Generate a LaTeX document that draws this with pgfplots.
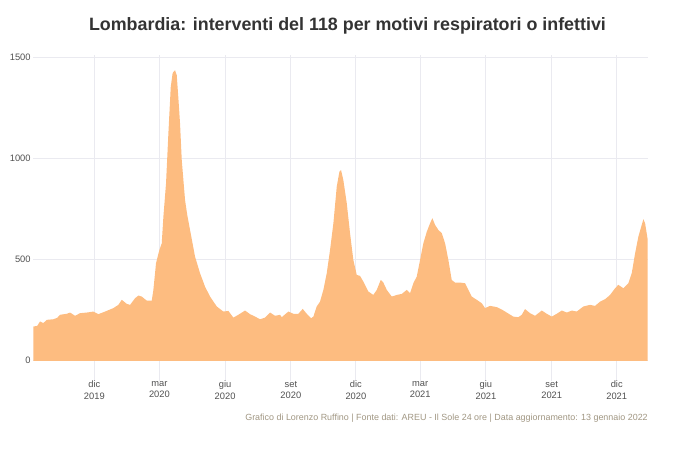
\documentclass[border=0pt]{standalone}
\usepackage{pgfplots}
\pgfplotsset{compat=1.18}
\usepackage{fontspec}
\setmainfont{Liberation Sans}
\definecolor{areaor}{RGB}{253,188,128}
\definecolor{gridc}{RGB}{234,234,240}
\definecolor{tickc}{RGB}{80,80,80}
\definecolor{titlec}{RGB}{51,51,51}
\definecolor{capc}{RGB}{160,150,130}
\begin{document}
\begin{tikzpicture}
\path[use as bounding box] (0,0) rectangle (510pt,339.75pt);
\begin{axis}[
  at={(25pt,54pt)}, anchor=south west,
  scale only axis, width=460.8pt, height=244.5pt,
  xmin=-85.4, xmax=774.4, ymin=-100, ymax=1510,
  xtick={0,91,183,275,366,456,548,640,731},
  xticklabels={dic\\2019,mar\\2020,giu\\2020,set\\2020,dic\\2020,mar\\2021,giu\\2021,set\\2021,dic\\2021},
  xticklabel style={align=center, font=\fontsize{7}{8.8}\selectfont, text=tickc, yshift=3.5pt},
  ytick={0,500,1000,1500},
  yticklabel style={font=\fontsize{7}{8.5}\selectfont, text=tickc, xshift=1.5pt},
  /pgf/number format/assume math mode=true,
  /pgf/number format/1000 sep={},
  grid=major, major grid style={draw=gridc, line width=0.7pt},
  axis line style={draw=none}, tick style={draw=none},
  clip=true,
]
\addplot[fill=areaor, draw=none] coordinates {
(-85.4,169) (-80.0,172) (-76.0,194) (-71.4,186) (-66.6,202) (-57.4,205) (-52,212) (-48.0,227) (-38.6,232) (-34.0,238)
(-27.0,222) (-20.0,235) (-10.6,238) (-1.4,243) (5.6,230) (15.0,243) (26.6,260) (33.6,276)
(38.3,301) (45.3,281) (50.0,276) (57.0,309) (61.6,322) (66.3,317) (73.3,297) (80.3,297)
(82.6,350) (86.3,482) (91.0,547) (94.3,580) (96.6,711) (100.3,876) (103.6,1123) (106.9,1352)
(109.5,1420) (110.6,1426) (112.9,1435) (115.3,1410) (117.5,1300) (119.9,1172) (122.3,991) (126.9,794) (130,720) (133.9,646)
(140.9,514) (147.9,432) (154.9,366) (161.9,317) (171.3,268) (180.5,243) (187.5,246)
(189.9,235) (194.5,213) (201.5,227) (210.9,248) (217.9,230) (224.9,218) (231.9,205)
(238.9,213) (245.9,238) (252.9,222) (259.9,227) (262.2,215) (271.5,243) (278.5,232)
(285.5,232) (291.6,256) (297.2,232) (303.3,210) (306.5,218) (311.2,268) (315.8,292)
(320.5,350) (325.2,432) (329.8,547) (334.5,679) (339.2,860) (342.9,933) (345.2,942)
(348.4,893) (353.2,778) (357.8,630) (362.4,498) (367.2,424) (371.8,419) (376.4,391)
(383.4,342) (390.4,325) (395.2,350) (400.8,399) (404.4,386) (409.2,350) (416.2,317)
(423.2,325) (430.2,330) (437.2,350) (441.8,334) (446.4,383) (451.2,416) (455.8,498)
(460.4,580) (465.2,637) (469.8,679) (473.0,704) (476.8,671) (481.4,646) (486.2,630)
(490.8,580) (495.4,498) (500.1,399) (504.8,386) (511.8,386) (518.8,383) (523.4,350)
(528.1,317) (535.1,301) (542.1,284) (546.7,260) (553.7,271) (563.1,265) (570.1,253)
(577.1,238) (586.3,218) (593.3,215) (598.1,227) (602.7,255) (609.7,235) (616.7,222)
(626.1,248) (633.1,232) (640.1,218) (647.1,232) (654.1,248) (661.1,238) (668.1,248)
(675.1,243) (684.3,268) (693.7,276) (700.7,271) (707.7,292) (714.7,304) (721.7,325)
(728.7,358) (733.3,375) (740.3,358) (747.3,383) (752.0,432) (756.7,530) (761.3,613)
(766.0,671) (768.3,699) (770.7,679) (774.4,597)
} \closedcycle;
\end{axis}
\node[font=\fontsize{13.4}{15}\selectfont\bfseries, text=titlec] at (260.6pt,320pt) {Lombardia: interventi del 118 per motivi respiratori o infettivi};
\node[font=\fontsize{6.7}{8}\selectfont, text=capc, anchor=east, inner sep=0pt] at (486pt,26.25pt) {Grafico di Lorenzo Ruffino | Fonte dati: AREU - Il Sole 24 ore | Data aggiornamento: 13 gennaio 2022};
\end{tikzpicture}
\end{document}
